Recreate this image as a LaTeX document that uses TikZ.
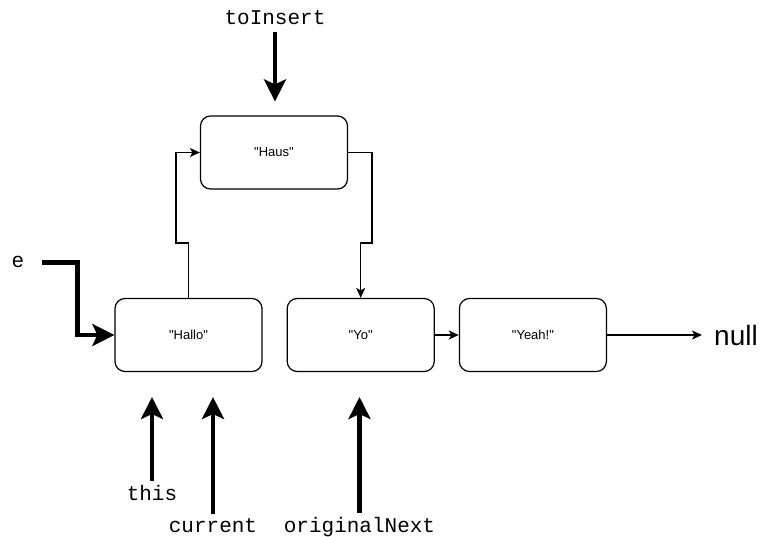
\documentclass[tikz,border=0pt]{standalone}
\usepackage{fontspec}
\setmainfont{Liberation Sans}
\setmonofont{Liberation Mono}
\newfontfamily\cellfont{Liberation Sans}
\usetikzlibrary{arrows.meta, positioning, calc}

\begin{document}
\begin{tikzpicture}[x=1pt,y=-1pt,
  cell/.style={draw=black,line width=1.2pt,rounded corners=10pt,fill=white,
               minimum width=147pt,minimum height=73pt,
               font=\cellfont\fontsize{13}{15}\selectfont},
  link/.style={line width=1.3pt,-{Stealth[length=10pt,width=9pt,inset=2.5pt]}},
  ptr/.style={line width=4.5pt,-{Stealth[length=22pt,width=22pt,inset=5pt]}},
  varname/.style={font=\ttfamily\fontsize{21}{24}\selectfont,
                  inner sep=3.5pt,anchor=base}]
\useasboundingbox (0,0) rectangle (763,537);

% ===== LIST CELLS =====
\node[cell] (hallo) at (188.5,335) {"Hallo"};
\node[cell,right=24pt of hallo] (yo) {"Yo"};
\node[cell,right=24pt of yo] (yeah) {"Yeah!"};
\node[cell] (haus) at (274,152.5) {"Haus"};
\node[font=\fontsize{28}{30}\selectfont,inner sep=0,anchor=base west] (null) at (714,345) {null};

% ===== NEXT LINKS =====
\draw[link] (hallo.north) -- ++(0,-55) -| ([xshift=-24pt]haus.west) -- (haus.west);
\draw[link] (haus.east) -- ++(24,0) |- ([yshift=55pt]yo.north) -- (yo.north);
\draw[link] (yo) -- (yeah);
\draw[link,shorten >=12pt] (yeah.east) -- (null.west |- yeah.east);

% ===== VARIABLES =====
\coordinate (tips) at (0,397);
\node[varname] (toInsert) at (275,25) {toInsert};
\node[varname] (e) at (18,268) {e};
\node[varname] (this) at (152,500) {this};
\node[varname] (current) at (213,532) {current};
\node[varname] (originalNext) at (359.5,532) {originalNext};

\draw[ptr,shorten <=3pt,shorten >=14pt] (toInsert) -- (toInsert |- haus.north);
\draw[ptr,shorten <=14pt] (e.east) -| ([xshift=-37pt]hallo.west) -- (hallo.west);
\draw[ptr] (this) -- (this |- tips);
\draw[ptr] (current) -- (current |- tips);
\draw[ptr] (originalNext) -- (originalNext |- tips);
\end{tikzpicture}
\end{document}
